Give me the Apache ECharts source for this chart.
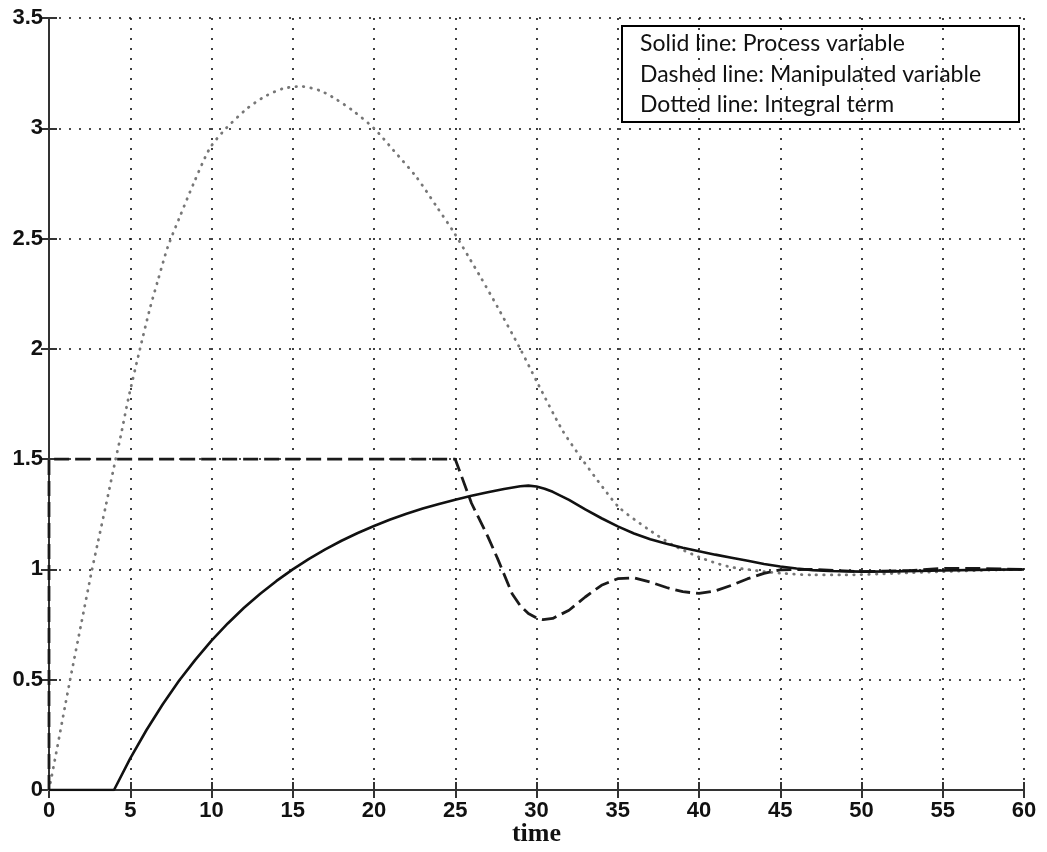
<!DOCTYPE html>
<html>
<head>
<meta charset="utf-8">
<script src="https://cdn.jsdelivr.net/npm/echarts@6/dist/echarts.min.js"></script>
<style>
html,body{margin:0;padding:0;background:#fff;}
#c{width:1047px;height:852px;}
</style>
</head>
<body>
<div id="c"></div>
<script>
// Process variable (solid)
const pvT = [0, 4, 5, 6, 7, 8, 9, 10, 11, 12, 13, 14, 15, 16, 17, 18, 19, 20, 21, 22, 23, 24, 25, 26, 27, 28, 29, 29.5, 30, 30.5, 31, 32, 33, 34, 35, 36, 37, 38, 39, 40, 41, 42, 43, 44, 45, 46, 47, 48, 50, 52, 55, 58, 60];
const pvY = [0, 0, 0.143, 0.272, 0.389, 0.495, 0.590, 0.677, 0.755, 0.826, 0.890, 0.948, 1.0, 1.048, 1.091, 1.130, 1.165, 1.197, 1.226, 1.252, 1.276, 1.297, 1.316, 1.334, 1.350, 1.365, 1.377, 1.380, 1.376, 1.366, 1.352, 1.315, 1.272, 1.232, 1.195, 1.163, 1.137, 1.116, 1.098, 1.082, 1.067, 1.053, 1.039, 1.025, 1.013, 1.004, 0.997, 0.993, 0.990, 0.991, 0.995, 0.999, 1.0];
// Manipulated variable (dashed)
const mvT = [0, 0, 25, 25.3, 26, 27, 27.6, 28.5, 29, 29.5, 30, 30.4, 31, 32, 33, 34, 35, 36, 37, 38, 39, 40, 41, 42, 43, 44, 45, 47, 50, 53, 55, 57, 60];
const mvY = [0, 1.5, 1.5, 1.44, 1.30, 1.15, 1.05, 0.89, 0.835, 0.80, 0.78, 0.772, 0.778, 0.815, 0.875, 0.928, 0.958, 0.962, 0.943, 0.918, 0.899, 0.891, 0.903, 0.928, 0.958, 0.982, 0.998, 1.0, 0.99, 0.995, 1.005, 1.005, 1.0];
// Integral term (dotted)
const itT = [0, 0.5, 1, 1.3, 2, 2.65, 3, 3.5, 4.1, 4.4, 4.9, 5.6, 6.2, 6.7, 7.3, 8, 8.9, 9.9, 10.9, 12.2, 13.3, 14.4, 15.5, 16.7, 17.7, 18.7, 20, 21.2, 22.6, 23.9, 24.9, 25.8, 26.6, 27.6, 29, 30.1, 31.6, 32.8, 34.1, 35.1, 36.8, 38.4, 40, 41.1, 42, 43, 44, 45, 47, 49, 52, 55, 58, 60];
const itY = [0, 0.19, 0.385, 0.5, 0.76, 1.0, 1.12, 1.29, 1.5, 1.6, 1.78, 2.0, 2.18, 2.31, 2.46, 2.59, 2.75, 2.91, 3.0, 3.09, 3.145, 3.18, 3.19, 3.17, 3.13, 3.08, 3.0, 2.9, 2.78, 2.64, 2.53, 2.42, 2.32, 2.19, 2.0, 1.84, 1.63, 1.5, 1.37, 1.28, 1.186, 1.11, 1.056, 1.027, 1.01, 1.0, 0.99, 0.983, 0.975, 0.975, 0.982, 0.99, 0.997, 1.0];
// Ticks
const xTicks = [0, 5, 10, 15, 20, 25, 30, 35, 40, 45, 50, 55, 60];
const yTicks = [0, 0.5, 1, 1.5, 2, 2.5, 3, 3.5];
const legendLines = ['Solid line: Process variable', 'Dashed line: Manipulated variable', 'Dotted line: Integral term'];

const zip = (a, b) => a.map((v, i) => [v, b[i]]);
const chart = echarts.init(document.getElementById('c'), null, {renderer: 'canvas'});

const gridLine = {show: true, lineStyle: {color: '#111', width: 1.6, type: [2, 8]}};
const tickStyle = {show: true, inside: true, length: 8, lineStyle: {color: '#333', width: 2}};
const axisLineStyle = {show: true, lineStyle: {color: '#333', width: 2}};
const labelFont = {color: '#111', fontFamily: 'Liberation Sans', fontSize: 22, fontWeight: 'bold'};

chart.setOption({
  animation: false,
  backgroundColor: '#fff',
  grid: {left: 49, right: 23, top: 18, bottom: 62, show: false, containLabel: false, outerBoundsMode: 'none'},
  xAxis: [{
    type: 'value', min: 0, max: 60, interval: 5, position: 'bottom',
    name: 'time', nameLocation: 'middle', nameGap: 31, nameMoveOverlap: false,
    nameTextStyle: {fontFamily: 'Liberation Serif', fontSize: 26, color: '#111', fontWeight: 'bold'},
    axisLine: axisLineStyle, axisTick: tickStyle, splitLine: gridLine,
    axisLabel: Object.assign({margin: 10, formatter: v => xTicks.includes(v) ? String(v) : ''}, labelFont)
  }, {
    type: 'value', min: 0, max: 60, interval: 5, position: 'top',
    axisLine: axisLineStyle, axisTick: tickStyle, splitLine: {show: false}, axisLabel: {show: false}
  }],
  yAxis: [{
    type: 'value', min: 0, max: 3.5, interval: 0.5, position: 'left',
    axisLine: axisLineStyle, axisTick: tickStyle, splitLine: gridLine,
    axisLabel: Object.assign({margin: 6, formatter: v => yTicks.includes(v) ? String(v) : ''}, labelFont)
  }, {
    type: 'value', min: 0, max: 3.5, interval: 0.5, position: 'right',
    axisLine: axisLineStyle, axisTick: tickStyle, splitLine: {show: false}, axisLabel: {show: false}
  }],
  series: [{
    name: 'Integral term', type: 'line', data: zip(itT, itY), showSymbol: false, smooth: 0.25,
    lineStyle: {color: '#777', width: 2.8, type: [0.5, 7], cap: 'round'}, z: 2
  }, {
    name: 'Manipulated variable', type: 'line', data: zip(mvT, mvY), showSymbol: false, smooth: false,
    lineStyle: {color: '#1a1a1a', width: 2.8, type: [15, 6]}, z: 3
  }, {
    name: 'Process variable', type: 'line', data: zip(pvT, pvY), showSymbol: false, smooth: false,
    lineStyle: {color: '#111', width: 2.6}, z: 4
  }],
  graphic: [{
    type: 'group', left: 621, top: 25, z: 100,
    children: [
      {type: 'rect', shape: {x: 0, y: 0, width: 397, height: 96}, style: {fill: '#fff', stroke: '#000', lineWidth: 2}},
      ...legendLines.map((t, i) => ({
        type: 'text', x: 18, y: 18 + i * 30.5,
        style: {text: t, fill: '#111', font: '23px Lato', textVerticalAlign: 'middle'}
      }))
    ]
  }]
});
</script>
</body>
</html>
